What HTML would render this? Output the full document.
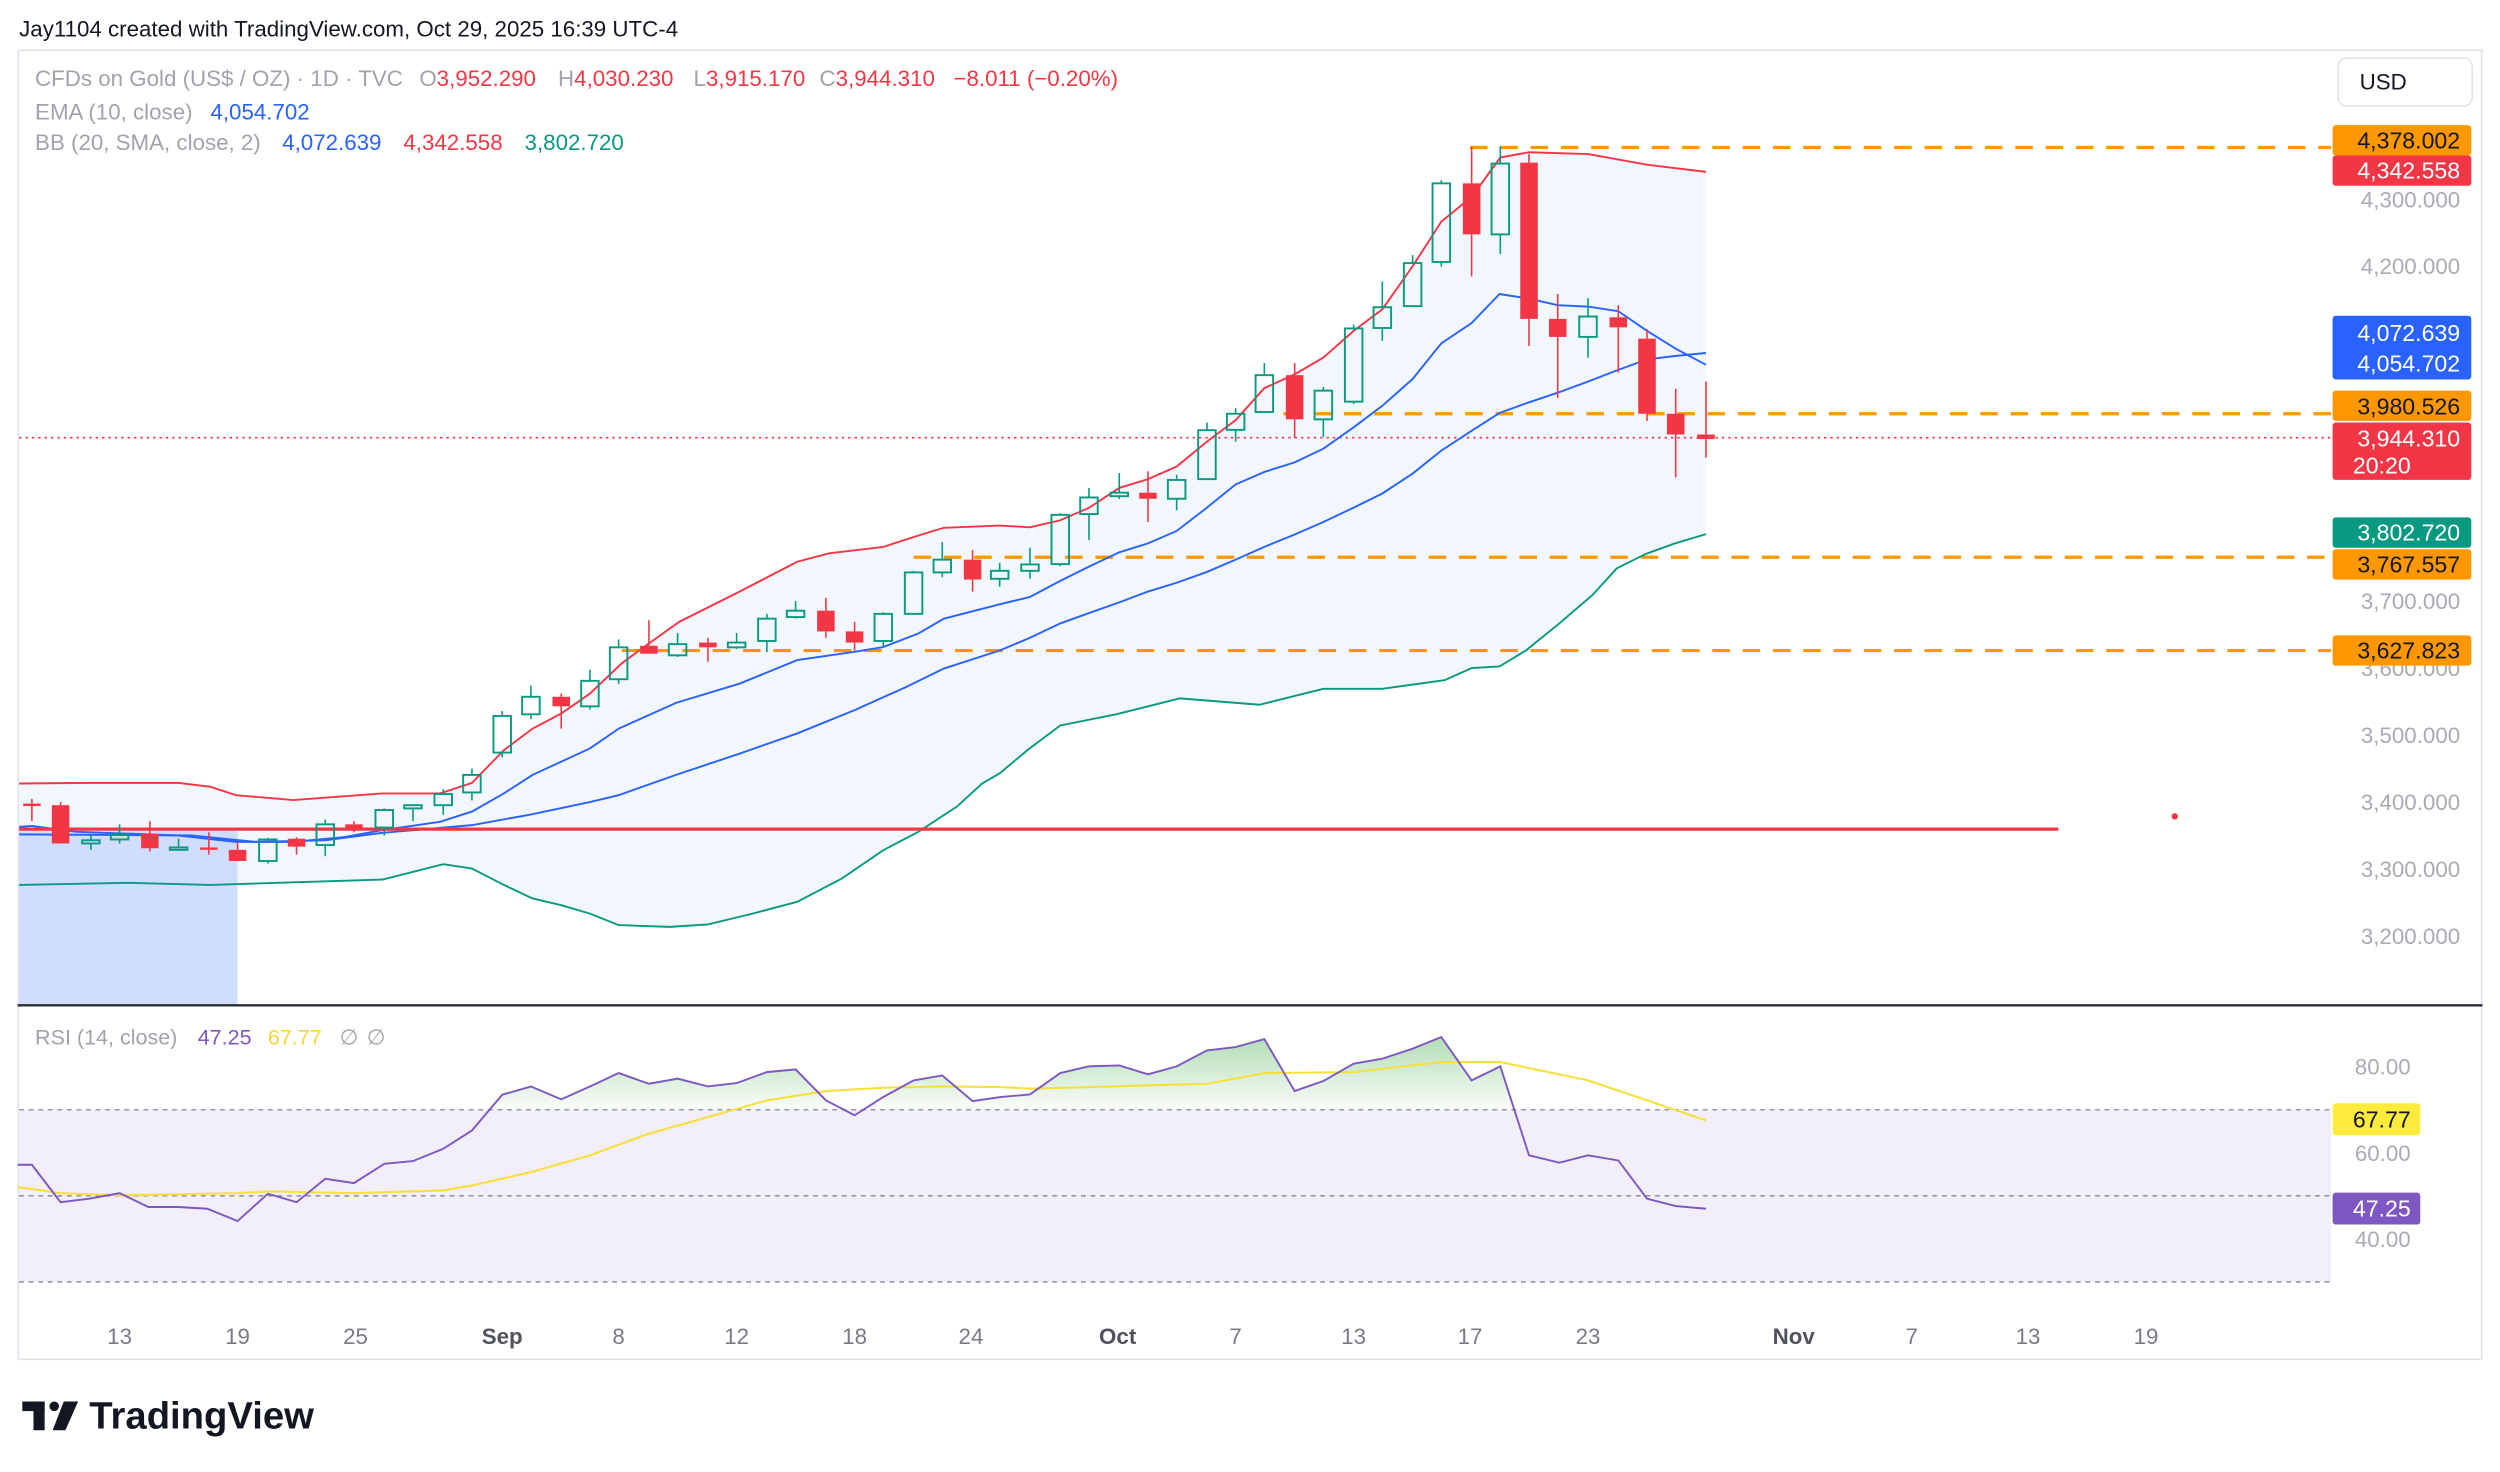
<!DOCTYPE html>
<html><head><meta charset="utf-8"><style>
html,body{margin:0;padding:0;background:#fff;width:2500px;height:1472px;overflow:hidden}
svg{display:block}
text{font-family:"Liberation Sans",sans-serif}
</style></head><body>
<svg id="s" width="2500" height="1472" viewBox="0 0 1568 923.2" preserveAspectRatio="none" xmlns="http://www.w3.org/2000/svg">
<defs>
<clipPath id="above70"><rect x="0" y="640" width="1470" height="56"/></clipPath>
<linearGradient id="gg2" gradientUnits="userSpaceOnUse" x1="0" y1="648" x2="0" y2="696"><stop offset="0" stop-color="#4caf50" stop-opacity="0.45"/><stop offset="1" stop-color="#4caf50" stop-opacity="0.03"/></linearGradient>
</defs>
<rect width="1568" height="923.2" fill="#fff"/>
<text x="12" y="23" font-size="14" fill="#131722">Jay1104 created with TradingView.com, Oct 29, 2025 16:39 UTC-4</text>
<rect x="11.5" y="31.5" width="1545" height="821" fill="#fff" stroke="#e0e3eb" stroke-width="1"/>

<polygon fill="#f1f7fd" points="12,491.4 56,491 112,491 132,493.5 148,498.7 184,501.8 240,497.6 276,497.6 296,491 316,470.5 334,457 352,447.5 370,435 390,416 404,405.7 426,390 464,371 500,352.3 520,347 554,343 580,334.6 592,331 627,329.6 646,330.7 665,326.3 683,318.5 702,306 720,300.5 738,292.6 757,277 775,263.5 793,243.4 812,234.8 830,224.3 849,207.5 867,194 886,167 904,139 923,123.5 941,98.8 959,95.5 996,96.6 1033,103.3 1070,107.8 1070,335 1050,341 1032,347.5 1014,356.5 999,373 978,391 957,408 940.5,418 923,419 906,426.6 867,432 830,432 790,442 740,438 700,448 665,455 645,470 627,485 616,491.4 600,506 576,521.7 554,533.2 528,551 500,565.6 472,573 444,579.8 420,581.3 388,580.2 370,573 352,567.7 334,563.5 316,555 296,544.7 278,542 240,551.6 132,555 80,553.7 12,555"/>
<rect x="12" y="521" width="137" height="109" fill="#d1ddfd"/>

<g stroke="#ff9800" stroke-width="2" stroke-dasharray="11,8" fill="none">
<line x1="922" y1="92.5" x2="1462" y2="92.5"/>
<line x1="805" y1="259.5" x2="1462" y2="259.5"/>
<line x1="573" y1="349.5" x2="1462" y2="349.5"/>
<line x1="390" y1="408" x2="1462" y2="408"/>
</g>
<line x1="12" y1="274.5" x2="1462" y2="274.5" stroke="#f23645" stroke-width="1" stroke-dasharray="1.5,2.5"/>

<polyline fill="none" stroke="#f23645" stroke-width="1.2" points="12,491.4 56,491 112,491 132,493.5 148,498.7 184,501.8 240,497.6 276,497.6 296,491 316,470.5 334,457 352,447.5 370,435 390,416 404,405.7 426,390 464,371 500,352.3 520,347 554,343 580,334.6 592,331 627,329.6 646,330.7 665,326.3 683,318.5 702,306 720,300.5 738,292.6 757,277 775,263.5 793,243.4 812,234.8 830,224.3 849,207.5 867,194 886,167 904,139 923,123.5 941,98.8 959,95.5 996,96.6 1033,103.3 1070,107.8"/>
<polyline fill="none" stroke="#089981" stroke-width="1.2" points="12,555 80,553.7 132,555 240,551.6 278,542 296,544.7 316,555 334,563.5 352,567.7 370,573 388,580.2 420,581.3 444,579.8 472,573 500,565.6 528,551 554,533.2 576,521.7 600,506 616,491.4 627,485 645,470 665,455 700,448 740,438 790,442 830,432 867,432 906,426.6 923,419 940.5,418 957,408 978,391 999,373 1014,356.5 1032,347.5 1050,341 1070,335"/>
<polyline fill="none" stroke="#2962ff" stroke-width="1.2" points="12,523.3 120,524 160,528 204,527 240,522.3 296,517.5 332,511 370,503 388,498.7 424,486 464,472.6 500,460 536,445.4 568,431 592,419.3 627,408 646,400 665,391 683,384.5 702,377.8 720,371 738,365.5 757,358.7 775,351 793,343 812,335.2 830,327.4 849,318.4 867,309.5 886,297 904,282.6 923,270.2 940.5,259 959,252.3 977,246.3 996,239.3 1015,232 1033,225.4 1051,223.2 1070,221.4"/>
<polyline fill="none" stroke="#2962ff" stroke-width="1.2" points="12,518.6 20,518 48,521.7 112,524 148,528 184,528 216,525 240,520.6 276,515.4 296,509 316,497.6 334,486 370,469.4 388,457 424,440.8 464,428.7 500,414 536,408.8 554,405.8 576,397.3 592,388 627,379 646,374.4 665,364.3 683,355.4 702,346.4 720,340.8 738,333 757,318.4 775,303.8 793,296 812,290 830,281.4 849,268 867,254.5 886,237.7 904,215.3 923,202.6 940.5,184.4 959,187.3 977,191.4 996,192.3 1015,195.2 1033,207.5 1051,218.7 1070,228.8"/>

<line x1="12" y1="520" x2="1291" y2="520" stroke="#f23645" stroke-width="2"/>
<circle cx="1364" cy="512" r="2" fill="#f23645"/>

<g id="candles"></g>

<g font-size="14">
<text x="22" y="54" fill="#a0a3ab">CFDs on Gold (US$ / OZ) · 1D · TVC</text>
<text x="263" y="54" fill="#a0a3ab">O<tspan fill="#f23645">3,952.290</tspan></text>
<text x="350" y="54" fill="#a0a3ab">H<tspan fill="#f23645">4,030.230</tspan></text>
<text x="435" y="54" fill="#a0a3ab">L<tspan fill="#f23645">3,915.170</tspan></text>
<text x="514" y="54" fill="#a0a3ab">C<tspan fill="#f23645">3,944.310</tspan></text>
<text x="598" y="54" fill="#f23645">−8.011 (−0.20%)</text>
<text x="22" y="75" fill="#a0a3ab">EMA (10, close)</text>
<text x="132" y="75" fill="#2962ff">4,054.702</text>
<text x="22" y="94" fill="#a0a3ab">BB (20, SMA, close, 2)</text>
<text x="177" y="94" fill="#2962ff">4,072.639</text>
<text x="253" y="94" fill="#f23645">4,342.558</text>
<text x="329" y="94" fill="#089981">3,802.720</text>
</g>

<rect x="1466.5" y="36.5" width="84" height="30" rx="5" fill="#fff" stroke="#e0e3eb"/>
<text x="1480" y="56" font-size="14" fill="#131722">USD</text>

<g font-size="14" fill="#a8abb3" text-anchor="end">
<text x="1543" y="130">4,300.000</text>
<text x="1543" y="172">4,200.000</text>
<text x="1543" y="382">3,700.000</text>
<text x="1543" y="424">3,600.000</text>
<text x="1543" y="466">3,500.000</text>
<text x="1543" y="508">3,400.000</text>
<text x="1543" y="550">3,300.000</text>
<text x="1543" y="592">3,200.000</text>
</g>
<g font-size="14.5" text-anchor="end">
<rect x="1463" y="78.5" width="87" height="19" rx="2" fill="#ff9800"/><text x="1543" y="93" fill="#131722">4,378.002</text>
<rect x="1463" y="97.5" width="87" height="19" rx="2" fill="#f23645"/><text x="1543" y="112" fill="#fff">4,342.558</text>
<rect x="1463" y="198" width="87" height="40" rx="2" fill="#2962ff"/><text x="1543" y="214" fill="#fff">4,072.639</text><text x="1543" y="233" fill="#fff">4,054.702</text>
<rect x="1463" y="245" width="87" height="19" rx="2" fill="#ff9800"/><text x="1543" y="260" fill="#131722">3,980.526</text>
<rect x="1463" y="265" width="87" height="36" rx="2" fill="#f23645"/><text x="1543" y="280" fill="#fff">3,944.310</text><text x="1512" y="297" fill="#fff">20:20</text>
<rect x="1463" y="324.5" width="87" height="19" rx="2" fill="#089981"/><text x="1543" y="339" fill="#fff">3,802.720</text>
<rect x="1463" y="344.5" width="87" height="19" rx="2" fill="#ff9800"/><text x="1543" y="359" fill="#131722">3,767.557</text>
<rect x="1463" y="398.5" width="87" height="19" rx="2" fill="#ff9800"/><text x="1543" y="413" fill="#131722">3,627.823</text>
</g>

<line x1="11" y1="630.5" x2="1557" y2="630.5" stroke="#2a2e39" stroke-width="1.5"/>

<rect x="12" y="696" width="1450" height="108" fill="#f2eefa"/>
<g stroke="#9598a1" stroke-width="1" stroke-dasharray="3,3">
<line x1="12" y1="696" x2="1462" y2="696"/>
<line x1="12" y1="750" x2="1462" y2="750"/>
<line x1="12" y1="804" x2="1462" y2="804"/>
</g>
<polygon clip-path="url(#above70)" fill="url(#gg2)" points="11,696 11,730.5 20,730.5 38,754 56,751.8 75,748.3 93,757 112,757 130,758.1 149,765.8 168,748.7 186,754 204,739.3 222,742 241,729.9 259,728.2 278,720.5 296,709 315,686.6 333,681.4 352,689.5 370,681.4 388,673 407,679.7 425,676.5 444,681.4 462,679.3 481,672.4 499,670.7 518,690.1 536,699.5 554,688 573,677.6 591,674.5 610,690.6 628,688 646,686.4 665,673 683,668.8 702,668.2 720,673.8 738,668.8 757,658.8 775,656.7 793,651.7 812,684.3 830,678 849,667.1 867,664 886,657.7 904,650.4 923,677.6 941,668.8 959,724.6 978,729.2 996,724.6 1015,727.8 1033,751.8 1051,756.4 1070,758.1 1070,696"/>
<polyline fill="none" stroke="#f7e03b" stroke-width="1.3" points="11,744.5 38,748.3 75,749.7 149,748.3 168,747.2 222,748.3 278,746.6 296,743.5 333,735.1 370,724.6 407,711 444,700.6 481,690.1 518,684.3 554,682.2 591,681.4 628,681.8 646,682.8 683,681.8 720,680.7 757,679.7 793,673 849,672.4 904,666.1 941,666.1 996,677.6 1033,690.1 1070,702.7"/>
<polyline fill="none" stroke="#7e57c2" stroke-width="1.2" points="11,730.5 20,730.5 38,754 56,751.8 75,748.3 93,757 112,757 130,758.1 149,765.8 168,748.7 186,754 204,739.3 222,742 241,729.9 259,728.2 278,720.5 296,709 315,686.6 333,681.4 352,689.5 370,681.4 388,673 407,679.7 425,676.5 444,681.4 462,679.3 481,672.4 499,670.7 518,690.1 536,699.5 554,688 573,677.6 591,674.5 610,690.6 628,688 646,686.4 665,673 683,668.8 702,668.2 720,673.8 738,668.8 757,658.8 775,656.7 793,651.7 812,684.3 830,678 849,667.1 867,664 886,657.7 904,650.4 923,677.6 941,668.8 959,724.6 978,729.2 996,724.6 1015,727.8 1033,751.8 1051,756.4 1070,758.1"/>
<g font-size="13.5">
<text x="22" y="655" fill="#a0a3ab">RSI (14, close)</text>
<text x="124" y="655" fill="#7e57c2">47.25</text>
<text x="168" y="655" fill="#f7d73b">67.77</text>
<text x="213" y="655" fill="#a0a3ab">∅</text>
<text x="230" y="655" fill="#a0a3ab">∅</text>
</g>
<g font-size="14" fill="#a8abb3" text-anchor="end">
<text x="1512" y="674">80.00</text>
<text x="1512" y="728">60.00</text>
<text x="1512" y="782">40.00</text>
</g>
<rect x="1463" y="692" width="55" height="20" rx="2" fill="#ffeb3b"/><text x="1512" y="707" font-size="14.5" fill="#131722" text-anchor="end">67.77</text>
<rect x="1463" y="748" width="55" height="20" rx="2" fill="#7e57c2"/><text x="1512" y="763" font-size="14.5" fill="#fff" text-anchor="end">47.25</text>

<g font-size="14" fill="#787b86" text-anchor="middle">
<text x="75" y="843">13</text><text x="149" y="843">19</text><text x="223" y="843">25</text>
<text x="315" y="843" font-weight="bold" fill="#50535e">Sep</text>
<text x="388" y="843">8</text><text x="462" y="843">12</text><text x="536" y="843">18</text><text x="609" y="843">24</text>
<text x="701" y="843" font-weight="bold" fill="#50535e">Oct</text>
<text x="775" y="843">7</text><text x="849" y="843">13</text><text x="922" y="843">17</text><text x="996" y="843">23</text>
<text x="1125" y="843" font-weight="bold" fill="#50535e">Nov</text>
<text x="1199" y="843">7</text><text x="1272" y="843">13</text><text x="1346" y="843">19</text>
</g>

<g fill="#131722">
<rect x="14" y="879" width="14" height="6"/><rect x="21" y="879" width="7" height="18"/>
<circle cx="34" cy="882" r="3"/>
<polygon points="40,879 49,879 41,897 33,897"/>
</g>
<text x="56" y="896" font-size="24" font-weight="bold" fill="#131722">TradingView</text>
</svg>
<script>
var d=[[20,504,505,501,515],[38,505,529,503,529],[57,529,527,523,533],[75,526.5,523.4,517,529],[94,523,532,515,534],[112,532,531.5,526,533],[131,531.5,532.5,522,536],[149,533,540,528,540],[168,540,526.5,525.5,541.6],[186,526,531,525,536],[204,530,517,514,537],[222,517,520,515,522],[241,519,508,507,524],[259,507,505,505,515],[278,505,498,495,511],[296,497,486,482,502],[315,472,449,446,475],[333,448,437,430,451],[352,437,443,435,457],[370,443,427,420,445],[388,426,406,401,429],[407,405,410,389,410],[425,411,404,397,412],[444,403,406,400,415],[462,406,403,397,407],[481,402,388,385,409],[499,387,383,377,388],[518,383,396,375,400],[536,396,403,390,408],[554,402,385,384,406],[573,385,359,358,385],[591,359,351,340,362],[610,351,363.5,345,371],[627,363,358,353,368],[646,358,354,343.5,363],[665,353.8,322.9,321.8,355],[683,322.4,312,306,338.6],[702,311.2,309,296.7,313],[720,309,312.8,295.6,327.4],[738,312.8,301,297.8,320],[757,300.5,269.8,265,300.5],[775,269.6,259.5,256,277],[793,258.4,235.3,227.7,258.4],[812,235.3,263,227.7,274.7],[830,263,245,242.7,274],[849,251.9,206,203.5,253.4],[867,205.7,192.7,176.6,213.8],[886,192,165,160,192],[904,164.3,115,113,167.2],[923,115,147,92,173.4],[941,147,102.6,91.7,159.3],[959,102,200,96.6,217],[977,200,211.3,184.4,249.6],[996,211.3,198.5,187,224.3],[1015,199,205.3,191.4,233.7],[1033,212.4,259.5,206.4,264],[1051,259.5,272.5,243.8,299.4],[1070,272.5,275.4,239.3,287]];
var g=document.getElementById('candles'),h='';
d.forEach(function(c){var x=c[0],o=c[1],cl=c[2],hi=c[3],lo=c[4];var up=cl<o;var col=up?'#089981':'#f23645';var t=Math.min(o,cl),b=Math.max(o,cl);var bh=Math.max(b-t,1.5);
h+='<line x1="'+x+'" y1="'+hi+'" x2="'+x+'" y2="'+t+'" stroke="'+col+'" stroke-width="1"/>';
h+='<line x1="'+x+'" y1="'+(t+bh)+'" x2="'+x+'" y2="'+lo+'" stroke="'+col+'" stroke-width="1"/>';
if(up)h+='<rect x="'+(x-5.5)+'" y="'+t+'" width="11" height="'+bh+'" fill="none" stroke="'+col+'" stroke-width="1.2"/>';
else h+='<rect x="'+(x-5.5)+'" y="'+t+'" width="11" height="'+bh+'" fill="'+col+'"/>';});
g.innerHTML=h;
</script>
</body></html>
